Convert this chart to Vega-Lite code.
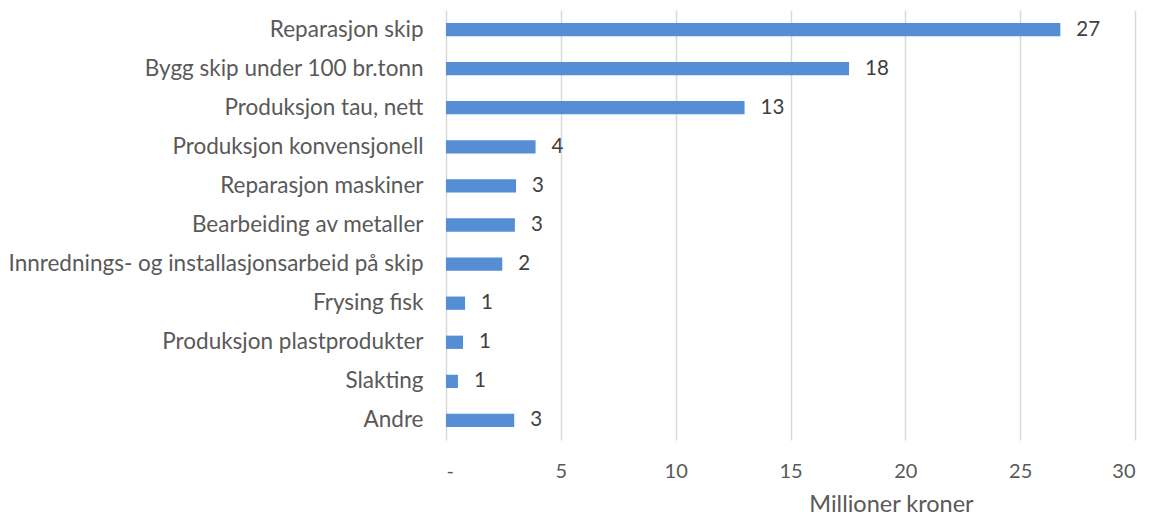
{
  "$schema": "https://vega.github.io/schema/vega-lite/v6.json",
  "width": 689,
  "height": 430,
  "autosize": {"type": "none"},
  "padding": {"left": 446, "top": 10, "right": 15, "bottom": 77},
  "background": "white",
  "config": {
    "view": {"stroke": null},
    "font": "Lato",
    "axis": {"labelFont": "Lato", "titleFont": "Lato", "labelColor": "#595959", "titleColor": "#595959"}
  },
  "data": {
    "values": [
      {"kategori": "Reparasjon skip", "verdi": 26.75},
      {"kategori": "Bygg skip under 100 br.tonn", "verdi": 17.55},
      {"kategori": "Produksjon tau, nett", "verdi": 13.0},
      {"kategori": "Produksjon konvensjonell", "verdi": 3.9},
      {"kategori": "Reparasjon maskiner", "verdi": 3.05},
      {"kategori": "Bearbeiding av metaller", "verdi": 3.0},
      {"kategori": "Innrednings- og installasjonsarbeid på skip", "verdi": 2.45},
      {"kategori": "Frysing fisk", "verdi": 0.83},
      {"kategori": "Produksjon plastprodukter", "verdi": 0.74},
      {"kategori": "Slakting", "verdi": 0.52},
      {"kategori": "Andre", "verdi": 2.97}
    ]
  },
  "encoding": {
    "y": {
      "field": "kategori",
      "type": "nominal",
      "sort": null,
      "scale": {"paddingInner": 0.66, "paddingOuter": 0.33},
      "axis": {
        "title": null,
        "domain": false,
        "ticks": false,
        "tickSize": 0,
        "labelPadding": 23,
        "labelFontSize": 22.5,
        "labelLimit": 500
      }
    },
    "x": {
      "field": "verdi",
      "type": "quantitative",
      "scale": {"domain": [0, 30], "nice": false},
      "axis": {
        "title": "Millioner kroner",
        "values": [0, 5, 10, 15, 20, 25, 30],
        "labelExpr": "datum.value == 0 ? '-' : datum.label",
        "domain": false,
        "ticks": false,
        "tickSize": 0,
        "labelPadding": 21,
        "labelFontSize": 20,
        "grid": true,
        "gridColor": "#d9d9d9",
        "gridWidth": 1.5,
        "titleFontSize": 23.5,
        "titleFontWeight": "normal",
        "titleX": 445,
        "titleY": 71,
        "titleAlign": "center",
        "titleBaseline": "alphabetic"
      }
    }
  },
  "layer": [
    {"mark": {"type": "bar", "color": "#558ED5"}},
    {
      "mark": {"type": "text", "align": "left", "baseline": "middle", "dx": 16, "fontSize": 20.5, "color": "#404040", "font": "Lato"},
      "encoding": {"text": {"field": "verdi", "type": "quantitative", "format": ".0f"}}
    }
  ]
}
